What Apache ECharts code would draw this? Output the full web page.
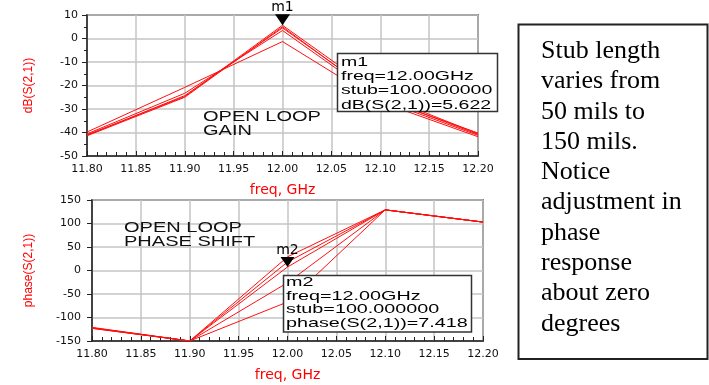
<!DOCTYPE html>
<html>
<head>
<meta charset="utf-8">
<script src="https://cdn.jsdelivr.net/npm/echarts@6/dist/echarts.min.js"></script>
<style>
html,body{margin:0;padding:0;background:#fff;}
#chart{width:709px;height:385px;}
</style>
</head>
<body>
<div id="chart"></div>
<script>
// ---- data ----
var freqs = [11.80, 11.90, 12.00, 12.10, 12.20];
var xTicks = ['11.80','11.85','11.90','11.95','12.00','12.05','12.10','12.15','12.20'];

// dB(S(2,1)) for stub = 50, 75, 100, 125, 150 mils
var gain50  = [-39.8, -20.8, -1.3, -27.0, -41.8];
var gain75  = [-40.6, -23.3,  3.4, -26.0, -41.2];
var gain100 = [-41.0, -24.7,  5.622, -24.0, -40.5];
var gain125 = [-41.2, -24.3,  4.5, -25.0, -40.8];
var gain150 = [-41.4, -25.0,  5.0, -25.5, -40.2];

// phase(S(2,1)) for stub = 50, 75, 100, 125, 150 mils
var phase50  = [-121, -150, -67.0, 129, 103];
var phase75  = [-122, -150, -26.0, 129, 103];
var phase100 = [-122, -150,  7.418, 129, 103];
var phase125 = [-123, -150, 18.0, 129, 103];
var phase150 = [-123, -150, 29.0, 129, 103];

var gainSets = [gain50, gain75, gain100, gain125, gain150];
var phaseSets = [phase50, phase75, phase100, phase125, phase150];
var stubs = [50, 75, 100, 125, 150];

var marker1 = {name: 'm1', freq: 12.00, value: 5.622};
var marker2 = {name: 'm2', freq: 12.00, value: 7.418};

var noteLines = ['Stub length','varies from','50 mils to','150 mils.','Notice','adjustment in','phase','response','about zero','degrees'];

// ---- chart ----
function pairs(arr){ return freqs.map(function(f,i){ return [f, arr[i]]; }); }

var axisLabelFont = {fontFamily: 'DejaVu Sans', fontSize: 11, color: '#111'};
var gridLine = {show: true, lineStyle: {color: '#c4c4c4', width: 1.5}};

function xAxisDef(gridIndex){
  return {
    type: 'value', gridIndex: gridIndex, min: 11.8, max: 12.2, interval: 0.05,
    name: 'freq, GHz', nameLocation: 'middle', nameGap: 27,
    nameTextStyle: {color: '#ff0000', fontFamily: 'DejaVu Sans', fontSize: 14},
    axisLine: {show: true, onZero: false, lineStyle: {color: '#222', width: 1.5}},
    axisTick: {show: true, inside: true, length: 5, lineStyle: {color: '#222'}},
    minorTick: {show: true, splitNumber: 5, length: 4, lineStyle: {color: '#222'}},
    splitLine: gridLine,
    axisLabel: Object.assign({margin: 8, formatter: function(v){ return v.toFixed(2); }}, axisLabelFont)
  };
}

var series = [];
gainSets.forEach(function(arr, i){
  var s = {
    type: 'line', xAxisIndex: 0, yAxisIndex: 0, name: 'dB stub ' + stubs[i],
    data: pairs(arr), symbol: 'none', silent: true,
    lineStyle: {color: '#ff1010', width: 1}, z: 3
  };
  if (stubs[i] === 100) {
    s.markPoint = {
      symbol: 'triangle', symbolRotate: 180, symbolSize: [15, 11], symbolOffset: [0, -5.5],
      itemStyle: {color: '#000'},
      label: {show: true, position: 'top', distance: 0, formatter: marker1.name, color: '#000', fontFamily: 'DejaVu Sans', fontSize: 14},
      data: [{coord: [marker1.freq, marker1.value]}], z: 10
    };
  }
  series.push(s);
});
phaseSets.forEach(function(arr, i){
  var s = {
    type: 'line', xAxisIndex: 1, yAxisIndex: 1, name: 'phase stub ' + stubs[i],
    data: pairs(arr), symbol: 'none', silent: true,
    lineStyle: {color: '#ff1010', width: 1}, z: 3
  };
  if (stubs[i] === 100) {
    s.markPoint = {
      symbol: 'triangle', symbolRotate: 180, symbolSize: [14, 10], symbolOffset: [0, -5],
      itemStyle: {color: '#000'},
      label: {show: true, position: 'top', distance: 0, formatter: marker2.name, color: '#000', fontFamily: 'DejaVu Sans', fontSize: 14},
      data: [{coord: [marker2.freq, marker2.value]}], z: 10
    };
  }
  series.push(s);
});

function textEl(x, y, lines, fontSize, sx, lh, fill, family){
  return {
    type: 'text', x: x, y: y, scaleX: sx, z: 100,
    style: {text: lines.join('\n'), fill: fill || '#000',
      font: fontSize + 'px ' + (family || '"Liberation Sans", Arial'),
      lineHeight: lh, verticalAlign: 'top', align: 'left'}
  };
}

var graphics = [
  // marker 1 readout
  {type: 'rect', shape: {x: 337.5, y: 53.5, width: 160, height: 58}, style: {fill: '#fff', stroke: '#333', lineWidth: 1.5}, z: 99},
  textEl(341, 55, ['m1','freq=12.00GHz','stub=100.000000','dB(S(2,1))=5.622'], 13, 1.5, 14.3),
  // marker 2 readout
  {type: 'rect', shape: {x: 283.5, y: 275.5, width: 188, height: 56.5}, style: {fill: '#fff', stroke: '#333', lineWidth: 1.5}, z: 99},
  textEl(286, 275.5, ['m2','freq=12.00GHz','stub=100.000000','phase(S(2,1))=7.418'], 13, 1.52, 13.7),
  // plot annotations
  textEl(203, 109.5, ['OPEN LOOP','GAIN'], 14, 1.43, 14.5, '#111'),
  textEl(124, 221, ['OPEN LOOP','PHASE SHIFT'], 14, 1.43, 14, '#111'),
  // note box
  {type: 'rect', shape: {x: 518.5, y: 24.5, width: 189, height: 334.5}, style: {fill: '#fff', stroke: '#222', lineWidth: 2}, z: 99},
  textEl(541, 36, noteLines, 26, 1, 30.3, '#000', '"Liberation Serif", "Times New Roman", serif')
];

var option = {
  backgroundColor: '#fff',
  animation: false,
  grid: [
    {left: 87, top: 15, width: 391, height: 141, show: true, borderColor: '#222', borderWidth: 1.5, backgroundColor: 'transparent'},
    {left: 92, top: 200, width: 391, height: 141, show: true, borderColor: '#222', borderWidth: 1.5, backgroundColor: 'transparent'}
  ],
  xAxis: [xAxisDef(0), xAxisDef(1)],
  yAxis: [
    {
      type: 'value', gridIndex: 0, min: -50, max: 10, interval: 10,
      name: 'dB(S(2,1))', nameLocation: 'middle', nameGap: 52, nameRotate: 90,
      nameTextStyle: {color: '#ff0000', fontFamily: 'Liberation Sans', fontSize: 12},
      axisLine: {show: true, onZero: false, lineStyle: {color: '#222', width: 1.5}},
      axisTick: {show: true, inside: false, length: 5, lineStyle: {color: '#222'}},
      minorTick: {show: true, splitNumber: 2, length: 3, lineStyle: {color: '#222'}},
      splitLine: gridLine,
      axisLabel: Object.assign({margin: 9}, axisLabelFont)
    },
    {
      type: 'value', gridIndex: 1, min: -150, max: 150, interval: 50,
      name: 'phase(S(2,1))', nameLocation: 'middle', nameGap: 57, nameRotate: 90,
      nameTextStyle: {color: '#ff0000', fontFamily: 'Liberation Sans', fontSize: 12},
      axisLine: {show: true, onZero: false, lineStyle: {color: '#222', width: 1.5}},
      axisTick: {show: true, inside: false, length: 5, lineStyle: {color: '#222'}},
      splitLine: gridLine,
      axisLabel: Object.assign({margin: 11}, axisLabelFont)
    }
  ],
  series: series,
  graphic: graphics
};

var chart = echarts.init(document.getElementById('chart'), null, {renderer: 'canvas'});
chart.setOption(option);
</script>
</body>
</html>
